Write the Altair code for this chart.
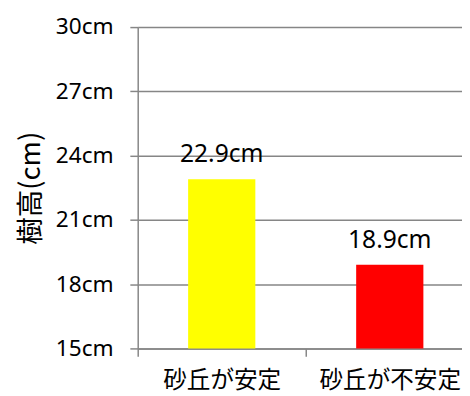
import altair as alt
import pandas as pd

categories = ["砂丘が安定", "砂丘が不安定"]
heights = [22.9, 18.9]
bar_colors = ["#FFFF00", "#FF0000"]
y_ticks = [15, 18, 21, 24, 27, 30]

df = pd.DataFrame({
    "cat": categories,
    "h": heights,
    "color": bar_colors,
    "label": [f"{v}cm" for v in heights],
})

grey = "#868686"

x = alt.X(
    "cat:N", sort=categories, title=None,
    scale=alt.Scale(paddingInner=0, paddingOuter=0, range=[0, 342]),
    axis=alt.Axis(labelAngle=0, tickBand="extent", labelFont="Noto Sans CJK JP",
                  labelFontSize=24, labelColor="black", labelPadding=13,
                  tickSize=8, tickColor=grey, tickWidth=1.5,
                  domainColor=grey, domainWidth=1.5, grid=False),
)
y = alt.Y(
    "h:Q", title="樹高(cm)",
    scale=alt.Scale(domain=[15, 30], nice=False, zero=False),
    axis=alt.Axis(values=y_ticks, labelExpr="datum.value + 'cm'", labelFont="Noto Sans",
                  labelFontSize=23, labelColor="black", labelPadding=17,
                  tickSize=8, tickColor=grey, tickWidth=1.5,
                  domainColor=grey, domainWidth=1.5,
                  grid=True, gridColor=grey, gridWidth=1.5,
                  titleFont="Noto Sans CJK JP", titleFontSize=28, titleFontWeight="normal",
                  titleColor="black", titlePadding=10),
)

bars = alt.Chart(df).mark_bar(width=alt.RelativeBandSize(0.4)).encode(
    x=x, y=y, y2=alt.datum(15),
    color=alt.Color("color:N", scale=None),
)
text = alt.Chart(df).mark_text(baseline="bottom", dy=-12, fontSize=25, font="Noto Sans",
                               color="black").encode(
    x=alt.X("cat:N", sort=categories),
    y=alt.Y("h:Q"),
    text="label:N",
)

chart = alt.layer(bars, text).properties(
    width=330, height=327,
    autosize=alt.AutoSizeParams(type="none"),
    padding={"left": 132, "top": 16, "right": 0, "bottom": 45},
).configure_view(stroke=None)

chart.save("out.html", embed_options={"renderer": "svg", "actions": False})
